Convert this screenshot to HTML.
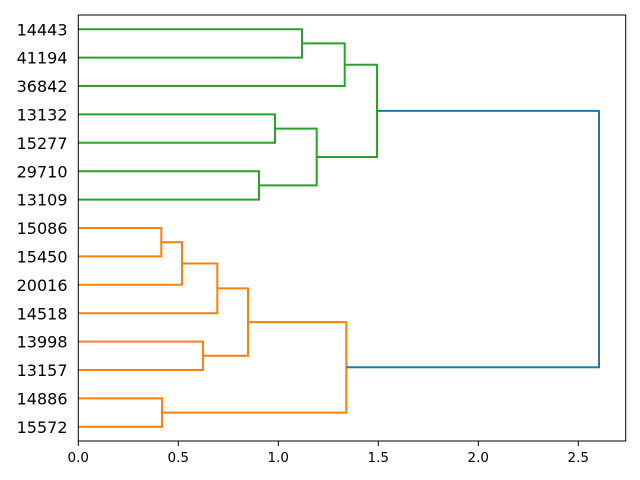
<!DOCTYPE html>
<html>
<head>
<meta charset="utf-8">
<style>
html,body{margin:0;padding:0;background:#fff;}
svg{display:block;}
text{font-family:"DejaVu Sans","Liberation Sans",sans-serif;fill:#000;}
</style>
</head>
<body>
<svg width="640" height="480" viewBox="0 0 640 480" xmlns="http://www.w3.org/2000/svg">
<rect x="0" y="0" width="640" height="480" fill="#fff"/>
<g fill="none" stroke-width="2" stroke-linejoin="miter" stroke-linecap="butt">
  <!-- green cluster -->
  <g stroke="#2ca02c">
    <polyline points="78.3,29.2 302,29.2 302,57.6 78.3,57.6"/>
    <polyline points="302,43.4 344.7,43.4 344.7,86 78.3,86"/>
    <polyline points="78.3,114.4 275,114.4 275,142.8 78.3,142.8"/>
    <polyline points="78.3,171.2 259,171.2 259,199.6 78.3,199.6"/>
    <polyline points="275,128.6 316.7,128.6 316.7,185.4 259,185.4"/>
    <polyline points="344.7,64.7 377,64.7 377,157 316.7,157"/>
  </g>
  <!-- orange cluster -->
  <g stroke="#ff7f0e">
    <polyline points="78.3,228 161.3,228 161.3,256.4 78.3,256.4"/>
    <polyline points="161.3,242.2 182,242.2 182,284.8 78.3,284.8"/>
    <polyline points="182,263.5 217.3,263.5 217.3,313.2 78.3,313.2"/>
    <polyline points="78.3,341.6 203,341.6 203,370 78.3,370"/>
    <polyline points="217.3,288.4 248,288.4 248,355.8 203,355.8"/>
    <polyline points="78.3,398.4 162,398.4 162,426.8 78.3,426.8"/>
    <polyline points="248,322.1 346.3,322.1 346.3,412.6 162,412.6"/>
  </g>
  <!-- blue link -->
  <polyline stroke="#1f77b4" points="377,110.9 599,110.9 599,367.3 346.3,367.3"/>
</g>
<!-- axes frame -->
<rect x="78.3" y="15" width="547.4" height="426" fill="none" stroke="#000" stroke-width="1"/>
<!-- x ticks -->
<g stroke="#000" stroke-width="1">
  <line x1="78.3" y1="441" x2="78.3" y2="446"/>
  <line x1="178.3" y1="441" x2="178.3" y2="446"/>
  <line x1="278.3" y1="441" x2="278.3" y2="446"/>
  <line x1="378.3" y1="441" x2="378.3" y2="446"/>
  <line x1="478.3" y1="441" x2="478.3" y2="446"/>
  <line x1="578.3" y1="441" x2="578.3" y2="446"/>
</g>
<g font-size="13.5" text-anchor="middle">
  <text x="78.3" y="462">0.0</text>
  <text x="178.3" y="462">0.5</text>
  <text x="278.3" y="462">1.0</text>
  <text x="378.3" y="462">1.5</text>
  <text x="478.3" y="462">2.0</text>
  <text x="578.3" y="462">2.5</text>
</g>
<!-- y leaf labels -->
<g font-size="16" text-anchor="end">
  <text x="67.5" y="35.3">14443</text>
  <text x="67.5" y="63.7">41194</text>
  <text x="67.5" y="92.1">36842</text>
  <text x="67.5" y="120.5">13132</text>
  <text x="67.5" y="148.9">15277</text>
  <text x="67.5" y="177.3">29710</text>
  <text x="67.5" y="205.7">13109</text>
  <text x="67.5" y="234.1">15086</text>
  <text x="67.5" y="262.5">15450</text>
  <text x="67.5" y="290.9">20016</text>
  <text x="67.5" y="319.3">14518</text>
  <text x="67.5" y="347.7">13998</text>
  <text x="67.5" y="376.1">13157</text>
  <text x="67.5" y="404.5">14886</text>
  <text x="67.5" y="432.9">15572</text>
</g>
</svg>
</body>
</html>
